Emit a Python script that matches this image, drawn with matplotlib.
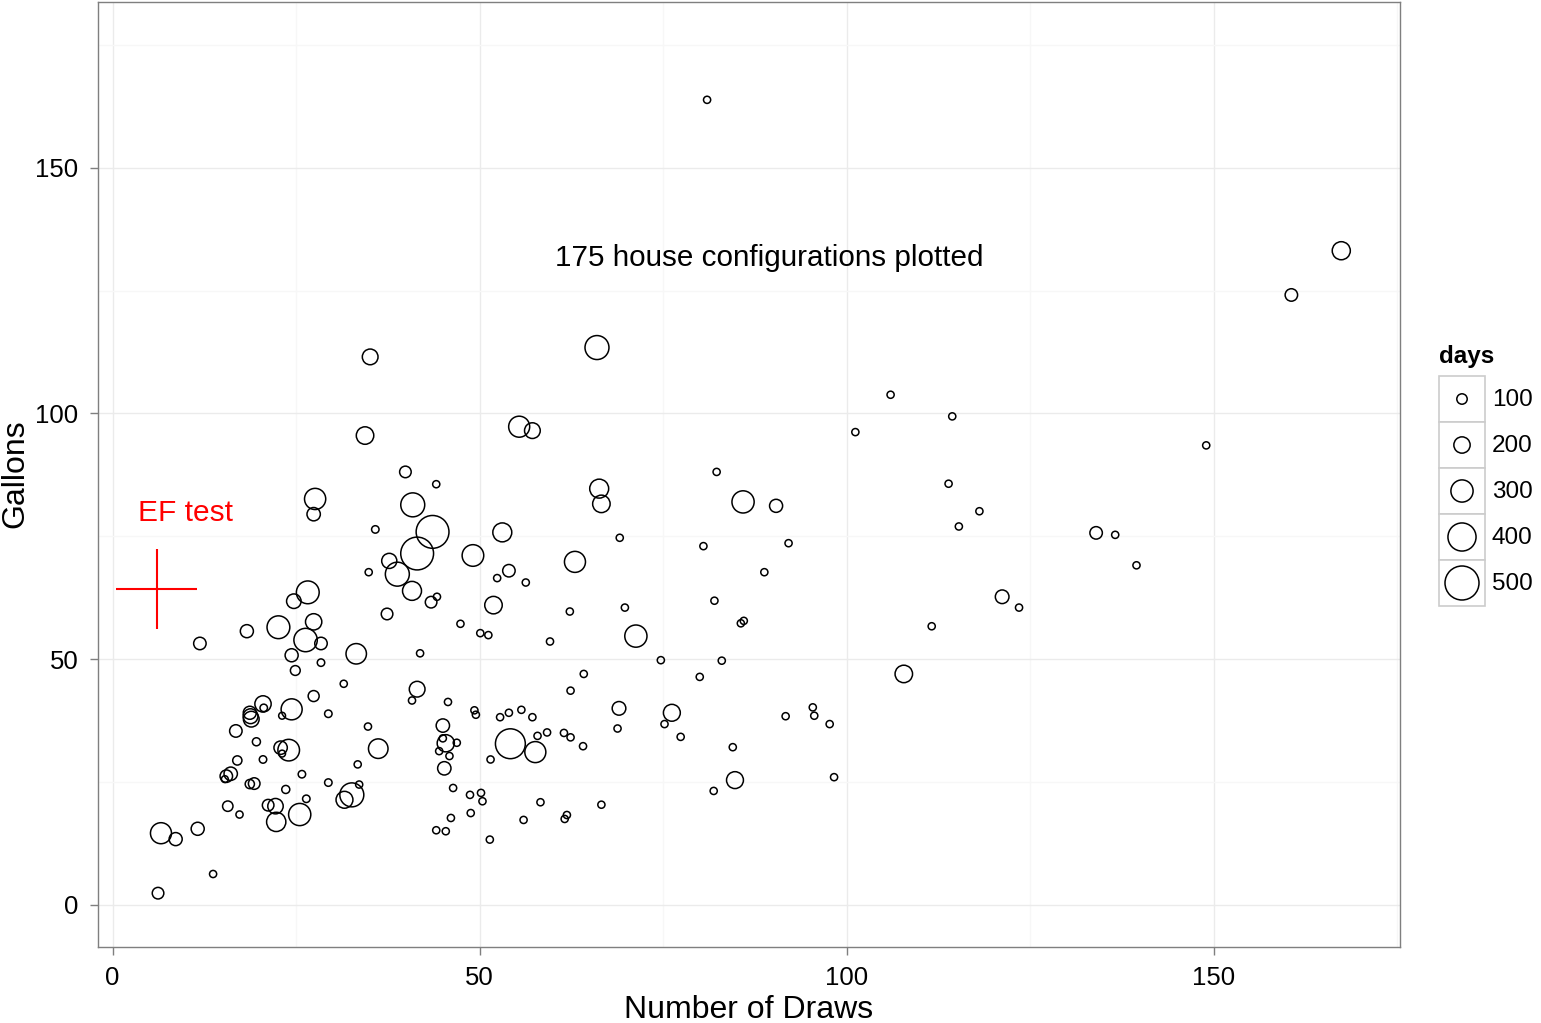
import matplotlib
matplotlib.use("Agg")
import matplotlib.pyplot as plt
from matplotlib.patches import Rectangle

plt.rcParams["font.family"] = ["Liberation Sans", "DejaVu Sans"]

# number of draws, gallons per day and days for each house configuration
draws = [27.6, 27.4, 26.6, 24.7, 18.3, 11.9, 22.6, 27.4, 26.3, 28.4,
         24.4, 28.4, 24.9, 31.5, 27.4, 20.5, 20.6, 24.4, 23.1, 29.4,
         18.7, 18.8, 18.9, 16.8, 19.6, 20.5, 17.0, 22.9, 24.0, 23.1,
         25.8, 29.4, 15.5, 16.1, 15.3, 18.7, 19.3, 23.6, 26.4, 31.6,
         32.6, 15.7, 17.3, 21.2, 22.2, 22.3, 25.5, 6.6, 8.6, 11.6,
         13.7, 6.2, 33.2, 33.4, 33.6, 40.8, 43.4, 44.2, 37.4, 51.9,
         62.3, 56.3, 52.4, 47.4, 50.1, 51.2, 59.6, 41.9, 64.2, 62.4,
         41.5, 40.8, 45.7, 49.3, 49.5, 52.8, 54.0, 55.7, 57.2, 34.8,
         45.0, 36.2, 45.4, 45.0, 46.9, 44.5, 45.9, 45.2, 54.2, 57.6,
         51.5, 57.9, 59.2, 61.5, 62.4, 64.1, 46.4, 48.7, 50.2, 50.4,
         58.3, 66.6, 46.1, 48.8, 56.0, 61.6, 61.9, 44.1, 45.4, 51.4,
         35.1, 66.0, 34.4, 55.4, 57.2, 39.9, 44.1, 40.9, 66.3, 66.6,
         35.8, 43.6, 41.5, 53.1, 37.7, 38.8, 34.9, 49.1, 54.0, 63.0,
         69.1, 82.3, 85.9, 90.4, 80.5, 92.1, 88.8, 82.0, 101.2, 69.8,
         71.3, 85.6, 86.0, 74.7, 83.0, 80.0, 69.0, 76.2, 68.8, 75.2,
         77.4, 91.7, 95.4, 95.6, 97.7, 84.5, 84.8, 81.9, 98.3, 106.0,
         114.4, 149.0, 113.9, 118.1, 115.3, 134.0, 136.6, 139.5, 121.2, 123.5,
         111.6, 107.8, 81.0, 167.4, 160.6]
gallons = [82.6, 79.5, 63.6, 61.8, 55.7, 53.2, 56.5, 57.6, 53.9, 53.2,
           50.8, 49.3, 47.7, 45.0, 42.5, 40.9, 40.1, 39.8, 38.5, 38.9,
           39.1, 38.4, 37.8, 35.4, 33.2, 29.6, 29.4, 32.0, 31.5, 30.8,
           26.6, 24.9, 26.2, 26.7, 25.6, 24.6, 24.7, 23.5, 21.6, 21.4,
           22.4, 20.1, 18.4, 20.3, 20.1, 16.9, 18.4, 14.6, 13.4, 15.5,
           6.3, 2.4, 51.1, 28.6, 24.5, 63.9, 61.6, 62.7, 59.2, 61.0,
           59.7, 65.6, 66.5, 57.2, 55.3, 54.9, 53.6, 51.2, 47.0, 43.6,
           43.9, 41.6, 41.3, 39.6, 38.7, 38.2, 39.1, 39.7, 38.2, 36.3,
           36.5, 31.8, 32.9, 33.9, 33.0, 31.3, 30.3, 27.8, 32.8, 31.1,
           29.6, 34.4, 35.1, 35.0, 34.1, 32.3, 23.8, 22.4, 22.8, 21.1,
           20.9, 20.4, 17.7, 18.7, 17.3, 17.5, 18.3, 15.2, 15.0, 13.3,
           111.5, 113.4, 95.5, 97.3, 96.5, 88.1, 85.6, 81.4, 84.7, 81.6,
           76.4, 75.9, 71.5, 75.8, 70.0, 67.3, 67.7, 71.1, 68.0, 69.8,
           74.7, 88.1, 82.0, 81.2, 73.0, 73.6, 67.7, 61.9, 96.2, 60.5,
           54.7, 57.3, 57.8, 49.8, 49.7, 46.4, 40.0, 39.1, 35.9, 36.8,
           34.2, 38.4, 40.2, 38.5, 36.8, 32.1, 25.4, 23.2, 26.0, 103.8,
           99.4, 93.5, 85.7, 80.1, 77.0, 75.7, 75.3, 69.1, 62.7, 60.5,
           56.7, 47.0, 163.8, 133.1, 124.1]
days = [283, 150, 310, 170, 145, 135, 310, 200, 320, 135,
        145, 50, 90, 45, 110, 200, 50, 280, 40, 50,
        145, 175, 190, 135, 60, 50, 80, 150, 290, 40,
        50, 50, 135, 150, 40, 80, 120, 60, 50, 210,
        330, 100, 45, 120, 185, 250, 300, 280, 145, 145,
        45, 120, 270, 45, 45, 245, 120, 45, 120, 220,
        45, 45, 45, 45, 45, 45, 45, 45, 45, 45,
        190, 45, 45, 45, 45, 45, 45, 45, 45, 45,
        150, 255, 215, 45, 45, 45, 45, 150, 430, 280,
        45, 45, 45, 45, 45, 45, 45, 45, 45, 45,
        45, 45, 45, 45, 45, 45, 45, 45, 45, 45,
        190, 330, 220, 280, 190, 120, 45, 330, 245, 220,
        50, 480, 480, 245, 180, 330, 45, 290, 135, 280,
        45, 45, 300, 145, 45, 45, 45, 45, 45, 45,
        300, 45, 45, 45, 45, 45, 155, 210, 45, 45,
        45, 45, 45, 45, 45, 45, 210, 45, 45, 45,
        45, 45, 45, 45, 45, 135, 45, 45, 155, 45,
        45, 220, 45, 230, 135]

legend_days = [100, 200, 300, 400, 500]

# EF test reference: 6 draws, 64.3 gallons
ef_draws, ef_gallons = 6, 64.3
ef_draws_err, ef_gallons_err = 5.5, 8.2

W, H, DPI = 1541, 1023, 100


def marker_area(d):
    # diameter (px) grows about linearly with days; scatter wants points^2
    return ((4.5 + 0.059 * d) * 72 / DPI) ** 2


fig = plt.figure(figsize=(W / DPI, H / DPI), dpi=DPI)
ax = fig.add_axes([98 / W, 1 - 947 / H, (1400 - 98) / W, (947 - 2) / H])

ax.scatter(draws, gallons, s=[marker_area(d) for d in days],
           facecolors="none", edgecolors="black", linewidths=1.1, zorder=3)

ax.errorbar([ef_draws], [ef_gallons], xerr=[ef_draws_err], yerr=[ef_gallons_err],
            fmt="none", ecolor="red", elinewidth=1.5, capsize=0, zorder=4)
ax.text(9.9, 79.8, "EF test", color="red", fontsize=21.5, ha="center", va="center")
ax.text(89.5, 131.6, "175 house configurations plotted", fontsize=21.3,
        ha="center", va="center")

ax.set_xlim(-1.98, 175.4)
ax.set_ylim(-8.55, 183.7)
ax.set_xticks([0, 50, 100, 150])
ax.set_yticks([0, 50, 100, 150])
ax.set_xticks([25, 75, 125, 175], minor=True)
ax.set_yticks([25, 75, 125, 175], minor=True)
ax.grid(True, which="major", color="#ebebeb", linewidth=1.0, zorder=0)
ax.grid(True, which="minor", color="#f7f7f7", linewidth=1.0, zorder=0)
ax.set_axisbelow(True)
ax.tick_params(which="major", direction="out", length=6, width=1,
               color="#7f7f7f", labelsize=18.5, pad=8)
ax.tick_params(which="minor", length=0)
for sp in ax.spines.values():
    sp.set_color("#7f7f7f")
    sp.set_linewidth(1.0)

fig.text(749 / W, 1 - 1010 / H, "Number of Draws", fontsize=23,
         ha="center", va="center")
fig.text(15 / W, 1 - 474 / H, "Gallons", fontsize=23, rotation=90,
         ha="center", va="center")

# legend drawn in its own pixel-space axes
lax = fig.add_axes([1430 / W, 1 - 620 / H, 110 / W, 280 / H])
lax.set_xlim(1430, 1540)
lax.set_ylim(620, 340)
lax.axis("off")
lax.text(1439, 356, "days", fontsize=17.5, fontweight="bold", ha="left", va="center")
for i, d in enumerate(legend_days):
    top = 376 + i * 46
    lax.add_patch(Rectangle((1439, top), 46, 46, facecolor="white",
                            edgecolor="#cccccc", linewidth=1.2))
    lax.scatter([1462], [top + 23], s=marker_area(d), facecolors="none",
                edgecolors="black", linewidths=1.1, zorder=3)
    lax.text(1492, top + 24, str(d), fontsize=17.5, ha="left", va="center")

fig.savefig("out.png", dpi=DPI)
